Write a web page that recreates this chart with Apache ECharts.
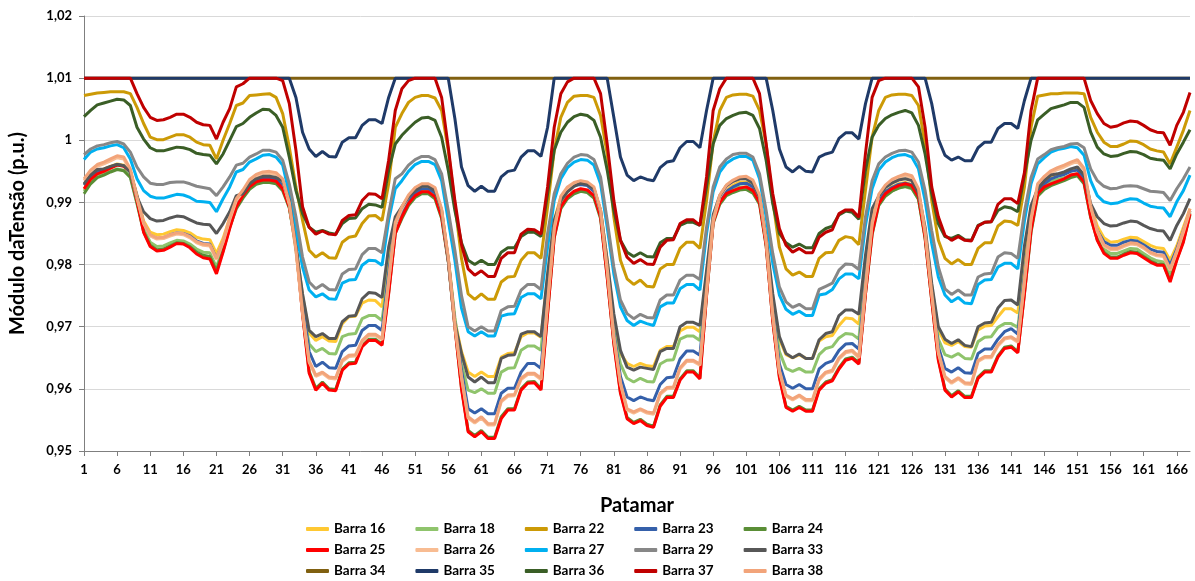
<!DOCTYPE html>
<html>
<head>
<meta charset="utf-8">
<script src="https://cdn.jsdelivr.net/npm/echarts@6/dist/echarts.min.js"></script>
<style>
html,body{margin:0;padding:0;background:#ffffff;}
#chart{width:1195px;height:581px;}
</style>
</head>
<body>
<div id="chart"></div>
<script>
// Hourly load levels (patamares) over one week: 7 days x 24 hours
const hours = Array.from({ length: 168 }, (_, k) => String(k + 1));

// Voltage magnitude per bus (p.u.), one row per day
const barra16 = [
  0.9928,0.9942,0.9951,0.9954,0.9958,0.9962,0.9960,0.9950,0.9912,0.9870,0.9852,0.9848,0.9849,0.9853,0.9856,0.9855,0.9851,0.9844,0.9841,0.9840,0.9818,0.9842,0.9875,0.9903,
  0.9915,0.9929,0.9936,0.9940,0.9940,0.9938,0.9930,0.9900,0.9830,0.9750,0.9690,0.9678,0.9684,0.9677,0.9676,0.9705,0.9716,0.9717,0.9738,0.9743,0.9742,0.9732,0.9815,0.9873,
  0.9890,0.9908,0.9918,0.9924,0.9925,0.9918,0.9885,0.9810,0.9710,0.9660,0.9627,0.9620,0.9627,0.9620,0.9620,0.9651,0.9657,0.9658,0.9684,0.9690,0.9690,0.9683,0.9780,0.9871,
  0.9909,0.9922,0.9929,0.9933,0.9931,0.9922,0.9887,0.9807,0.9710,0.9657,0.9641,0.9636,0.9641,0.9637,0.9636,0.9662,0.9668,0.9668,0.9693,0.9699,0.9699,0.9692,0.9785,0.9875,
  0.9905,0.9920,0.9928,0.9933,0.9933,0.9927,0.9905,0.9840,0.9745,0.9680,0.9655,0.9650,0.9655,0.9649,0.9649,0.9677,0.9684,0.9686,0.9702,0.9714,0.9713,0.9704,0.9800,0.9880,
  0.9905,0.9918,0.9925,0.9930,0.9932,0.9929,0.9910,0.9855,0.9765,0.9695,0.9674,0.9670,0.9676,0.9668,0.9667,0.9695,0.9701,0.9702,0.9716,0.9729,0.9729,0.9722,0.9810,0.9885,
  0.9920,0.9932,0.9940,0.9943,0.9946,0.9951,0.9954,0.9942,0.9895,0.9862,0.9843,0.9836,0.9837,0.9841,0.9844,0.9843,0.9837,0.9831,0.9827,0.9826,0.9807,0.9830,0.9860,0.9890
];
const barra18 = [
  0.9918,0.9933,0.9942,0.9946,0.9950,0.9954,0.9952,0.9943,0.9900,0.9858,0.9836,0.9829,0.9830,0.9835,0.9839,0.9838,0.9833,0.9825,0.9820,0.9819,0.9796,0.9827,0.9864,0.9894,
  0.9909,0.9923,0.9931,0.9934,0.9934,0.9932,0.9922,0.9893,0.9825,0.9730,0.9672,0.9660,0.9665,0.9657,0.9656,0.9684,0.9688,0.9689,0.9713,0.9718,0.9718,0.9710,0.9790,0.9865,
  0.9885,0.9903,0.9913,0.9918,0.9918,0.9911,0.9880,0.9810,0.9715,0.9640,0.9598,0.9594,0.9600,0.9593,0.9593,0.9627,0.9633,0.9634,0.9662,0.9669,0.9669,0.9662,0.9770,0.9862,
  0.9897,0.9910,0.9917,0.9918,0.9917,0.9909,0.9878,0.9790,0.9695,0.9640,0.9617,0.9611,0.9617,0.9612,0.9611,0.9640,0.9646,0.9647,0.9680,0.9685,0.9685,0.9678,0.9775,0.9872,
  0.9902,0.9915,0.9921,0.9925,0.9925,0.9920,0.9903,0.9835,0.9725,0.9660,0.9633,0.9628,0.9633,0.9627,0.9627,0.9655,0.9665,0.9668,0.9682,0.9689,0.9688,0.9680,0.9790,0.9870,
  0.9900,0.9912,0.9919,0.9923,0.9925,0.9922,0.9905,0.9845,0.9755,0.9680,0.9655,0.9651,0.9657,0.9649,0.9648,0.9676,0.9683,0.9684,0.9699,0.9705,0.9705,0.9699,0.9785,0.9870,
  0.9918,0.9928,0.9934,0.9937,0.9940,0.9944,0.9946,0.9935,0.9880,0.9845,0.9825,0.9818,0.9818,0.9822,0.9826,0.9825,0.9818,0.9811,0.9806,0.9804,0.9785,0.9812,0.9843,0.9884
];
const barra22 = [
  1.0072,1.0074,1.0076,1.0077,1.0078,1.0078,1.0078,1.0075,1.0053,1.0027,1.0005,1.0001,1.0001,1.0005,1.0009,1.0009,1.0005,0.9997,0.9993,0.9992,0.9970,1.0000,1.0027,1.0056,
  1.0060,1.0072,1.0073,1.0074,1.0075,1.0069,1.0043,0.9989,0.9925,0.9871,0.9823,0.9812,0.9819,0.9811,0.9810,0.9836,0.9844,0.9846,0.9866,0.9878,0.9879,0.9871,0.9930,1.0021,
  1.0043,1.0061,1.0069,1.0072,1.0072,1.0068,1.0048,0.9984,0.9898,0.9810,0.9753,0.9744,0.9753,0.9744,0.9744,0.9772,0.9780,0.9781,0.9807,0.9819,0.9819,0.9810,0.9893,0.9984,
  1.0037,1.0061,1.0071,1.0072,1.0072,1.0069,1.0040,0.9978,0.9877,0.9807,0.9777,0.9768,0.9775,0.9765,0.9764,0.9793,0.9800,0.9800,0.9826,0.9836,0.9836,0.9826,0.9903,0.9997,
  1.0048,1.0069,1.0073,1.0074,1.0074,1.0071,1.0048,0.9994,0.9903,0.9828,0.9793,0.9783,0.9788,0.9781,0.9781,0.9810,0.9819,0.9820,0.9839,0.9845,0.9843,0.9832,0.9920,1.0005,
  1.0048,1.0069,1.0073,1.0074,1.0074,1.0072,1.0056,0.9994,0.9903,0.9839,0.9810,0.9801,0.9808,0.9800,0.9800,0.9826,0.9835,0.9835,0.9862,0.9870,0.9869,0.9863,0.9925,1.0021,
  1.0071,1.0073,1.0075,1.0075,1.0076,1.0076,1.0076,1.0075,1.0037,1.0013,0.9997,0.9990,0.9990,0.9994,0.9999,0.9998,0.9993,0.9986,0.9983,0.9981,0.9962,0.9989,1.0016,1.0048
];
const barra23 = [
  0.9928,0.9941,0.9950,0.9953,0.9957,0.9961,0.9959,0.9949,0.9910,0.9866,0.9847,0.9842,0.9843,0.9848,0.9851,0.9850,0.9846,0.9838,0.9834,0.9833,0.9810,0.9836,0.9870,0.9900,
  0.9913,0.9928,0.9935,0.9939,0.9939,0.9937,0.9928,0.9898,0.9830,0.9735,0.9660,0.9636,0.9643,0.9634,0.9633,0.9660,0.9669,0.9670,0.9694,0.9702,0.9702,0.9694,0.9785,0.9865,
  0.9886,0.9904,0.9915,0.9922,0.9922,0.9915,0.9882,0.9808,0.9705,0.9630,0.9568,0.9561,0.9568,0.9560,0.9560,0.9593,0.9601,0.9601,0.9627,0.9641,0.9641,0.9633,0.9750,0.9858,
  0.9905,0.9919,0.9927,0.9929,0.9927,0.9918,0.9883,0.9795,0.9690,0.9620,0.9587,0.9581,0.9587,0.9583,0.9581,0.9607,0.9618,0.9619,0.9648,0.9661,0.9661,0.9654,0.9765,0.9870,
  0.9903,0.9918,0.9925,0.9930,0.9931,0.9925,0.9903,0.9835,0.9725,0.9640,0.9607,0.9601,0.9607,0.9600,0.9600,0.9632,0.9641,0.9645,0.9662,0.9672,0.9673,0.9664,0.9770,0.9865,
  0.9903,0.9917,0.9924,0.9929,0.9931,0.9928,0.9909,0.9850,0.9755,0.9668,0.9633,0.9627,0.9634,0.9626,0.9625,0.9657,0.9664,0.9664,0.9680,0.9692,0.9697,0.9688,0.9780,0.9870,
  0.9917,0.9930,0.9938,0.9942,0.9945,0.9950,0.9952,0.9940,0.9890,0.9855,0.9837,0.9831,0.9831,0.9836,0.9839,0.9838,0.9832,0.9825,0.9821,0.9820,0.9799,0.9825,0.9855,0.9887
];
const barra24 = [
  0.9914,0.9930,0.9940,0.9944,0.9949,0.9953,0.9951,0.9940,0.9898,0.9853,0.9831,0.9824,0.9825,0.9830,0.9835,0.9834,0.9829,0.9820,0.9815,0.9813,0.9790,0.9822,0.9860,0.9890,
  0.9907,0.9921,0.9929,0.9932,0.9932,0.9930,0.9919,0.9891,0.9830,0.9722,0.9628,0.9601,0.9611,0.9600,0.9599,0.9632,0.9642,0.9643,0.9670,0.9680,0.9680,0.9672,0.9755,0.9850,
  0.9874,0.9895,0.9908,0.9914,0.9914,0.9906,0.9874,0.9805,0.9700,0.9602,0.9533,0.9525,0.9533,0.9522,0.9522,0.9555,0.9568,0.9568,0.9600,0.9611,0.9612,0.9600,0.9722,0.9843,
  0.9890,0.9906,0.9914,0.9918,0.9916,0.9907,0.9874,0.9780,0.9674,0.9595,0.9554,0.9546,0.9551,0.9543,0.9540,0.9574,0.9588,0.9588,0.9616,0.9629,0.9629,0.9618,0.9750,0.9866,
  0.9897,0.9911,0.9916,0.9920,0.9921,0.9915,0.9897,0.9830,0.9710,0.9620,0.9572,0.9566,0.9572,0.9566,0.9566,0.9600,0.9611,0.9615,0.9634,0.9648,0.9651,0.9642,0.9753,0.9848,
  0.9895,0.9910,0.9918,0.9923,0.9926,0.9923,0.9905,0.9842,0.9743,0.9648,0.9600,0.9589,0.9597,0.9588,0.9588,0.9619,0.9629,0.9629,0.9653,0.9667,0.9669,0.9660,0.9753,0.9852,
  0.9910,0.9921,0.9927,0.9931,0.9935,0.9940,0.9943,0.9930,0.9876,0.9840,0.9820,0.9812,0.9812,0.9817,0.9821,0.9820,0.9813,0.9806,0.9801,0.9800,0.9775,0.9808,0.9838,0.9880
];
const barra25 = [
  0.9922,0.9937,0.9946,0.9950,0.9955,0.9960,0.9958,0.9950,0.9903,0.9852,0.9829,0.9822,0.9823,0.9828,0.9834,0.9833,0.9827,0.9817,0.9811,0.9809,0.9785,0.9820,0.9858,0.9893,
  0.9911,0.9925,0.9933,0.9936,0.9936,0.9934,0.9922,0.9893,0.9830,0.9720,0.9625,0.9598,0.9609,0.9598,0.9597,0.9630,0.9640,0.9641,0.9668,0.9678,0.9678,0.9670,0.9753,0.9850,
  0.9877,0.9898,0.9911,0.9917,0.9917,0.9909,0.9877,0.9807,0.9700,0.9600,0.9531,0.9523,0.9531,0.9520,0.9520,0.9552,0.9566,0.9566,0.9598,0.9609,0.9610,0.9598,0.9721,0.9844,
  0.9893,0.9909,0.9918,0.9922,0.9920,0.9911,0.9877,0.9780,0.9673,0.9593,0.9552,0.9544,0.9549,0.9541,0.9538,0.9572,0.9586,0.9586,0.9614,0.9627,0.9627,0.9616,0.9750,0.9868,
  0.9900,0.9914,0.9919,0.9923,0.9925,0.9919,0.9900,0.9831,0.9709,0.9618,0.9570,0.9564,0.9570,0.9564,0.9564,0.9598,0.9609,0.9613,0.9632,0.9646,0.9649,0.9640,0.9753,0.9850,
  0.9898,0.9914,0.9922,0.9927,0.9930,0.9927,0.9909,0.9844,0.9743,0.9646,0.9598,0.9587,0.9595,0.9586,0.9586,0.9617,0.9627,0.9627,0.9651,0.9665,0.9667,0.9658,0.9753,0.9855,
  0.9914,0.9925,0.9930,0.9934,0.9938,0.9944,0.9946,0.9933,0.9877,0.9839,0.9818,0.9810,0.9810,0.9815,0.9819,0.9818,0.9811,0.9804,0.9799,0.9799,0.9772,0.9807,0.9836,0.9882
];
const barra26 = [
  0.9935,0.9949,0.9958,0.9962,0.9967,0.9972,0.9970,0.9951,0.9907,0.9866,0.9846,0.9841,0.9842,0.9846,0.9849,0.9848,0.9843,0.9835,0.9831,0.9830,0.9808,0.9836,0.9872,0.9903,
  0.9917,0.9934,0.9942,0.9946,0.9947,0.9945,0.9935,0.9897,0.9822,0.9722,0.9643,0.9620,0.9625,0.9617,0.9616,0.9644,0.9652,0.9653,0.9676,0.9686,0.9686,0.9679,0.9772,0.9865,
  0.9890,0.9909,0.9921,0.9927,0.9927,0.9921,0.9887,0.9809,0.9702,0.9618,0.9553,0.9545,0.9553,0.9542,0.9542,0.9579,0.9588,0.9589,0.9615,0.9623,0.9623,0.9615,0.9737,0.9857,
  0.9907,0.9922,0.9929,0.9932,0.9930,0.9922,0.9885,0.9792,0.9683,0.9608,0.9566,0.9561,0.9566,0.9561,0.9559,0.9591,0.9600,0.9601,0.9632,0.9644,0.9644,0.9638,0.9757,0.9870,
  0.9909,0.9925,0.9933,0.9938,0.9939,0.9933,0.9909,0.9837,0.9718,0.9628,0.9588,0.9582,0.9588,0.9581,0.9581,0.9614,0.9625,0.9628,0.9648,0.9658,0.9660,0.9650,0.9762,0.9865,
  0.9910,0.9925,0.9934,0.9939,0.9943,0.9940,0.9919,0.9852,0.9753,0.9658,0.9618,0.9609,0.9616,0.9608,0.9607,0.9644,0.9650,0.9650,0.9669,0.9680,0.9682,0.9675,0.9772,0.9872,
  0.9927,0.9939,0.9948,0.9953,0.9957,0.9962,0.9966,0.9952,0.9893,0.9853,0.9830,0.9824,0.9824,0.9829,0.9833,0.9832,0.9826,0.9818,0.9814,0.9813,0.9791,0.9820,0.9852,0.9887
];
const barra27 = [
  0.9969,0.9981,0.9986,0.9988,0.9991,0.9993,0.9988,0.9970,0.9938,0.9919,0.9910,0.9907,0.9907,0.9910,0.9913,0.9912,0.9908,0.9902,0.9901,0.9900,0.9885,0.9906,0.9925,0.9949,
  0.9953,0.9965,0.9970,0.9976,0.9977,0.9973,0.9960,0.9914,0.9855,0.9796,0.9759,0.9748,0.9753,0.9745,0.9744,0.9770,0.9775,0.9776,0.9799,0.9807,0.9806,0.9799,0.9871,0.9922,
  0.9935,0.9950,0.9961,0.9966,0.9966,0.9961,0.9935,0.9871,0.9807,0.9730,0.9692,0.9685,0.9692,0.9685,0.9685,0.9717,0.9720,0.9721,0.9747,0.9753,0.9753,0.9745,0.9828,0.9903,
  0.9938,0.9956,0.9965,0.9969,0.9968,0.9960,0.9930,0.9860,0.9785,0.9732,0.9710,0.9702,0.9709,0.9705,0.9702,0.9732,0.9738,0.9738,0.9761,0.9768,0.9768,0.9759,0.9850,0.9917,
  0.9949,0.9963,0.9970,0.9974,0.9974,0.9968,0.9938,0.9877,0.9802,0.9751,0.9728,0.9720,0.9725,0.9718,0.9718,0.9751,0.9753,0.9760,0.9777,0.9785,0.9785,0.9777,0.9863,0.9922,
  0.9952,0.9965,0.9972,0.9976,0.9977,0.9973,0.9954,0.9903,0.9834,0.9780,0.9751,0.9740,0.9747,0.9738,0.9737,0.9768,0.9775,0.9776,0.9796,0.9802,0.9802,0.9793,0.9870,0.9930,
  0.9962,0.9972,0.9981,0.9985,0.9987,0.9990,0.9988,0.9976,0.9935,0.9911,0.9901,0.9898,0.9899,0.9903,0.9906,0.9905,0.9899,0.9894,0.9892,0.9891,0.9877,0.9901,0.9919,0.9944
];
const barra29 = [
  0.9977,0.9986,0.9991,0.9993,0.9996,0.9998,0.9994,0.9981,0.9957,0.9941,0.9931,0.9929,0.9929,0.9932,0.9933,0.9933,0.9930,0.9926,0.9924,0.9922,0.9911,0.9925,0.9941,0.9960,
  0.9963,0.9973,0.9978,0.9984,0.9984,0.9981,0.9968,0.9930,0.9877,0.9812,0.9772,0.9761,0.9768,0.9760,0.9759,0.9785,0.9792,0.9793,0.9816,0.9826,0.9826,0.9819,0.9882,0.9938,
  0.9946,0.9960,0.9969,0.9974,0.9974,0.9969,0.9946,0.9887,0.9823,0.9750,0.9700,0.9693,0.9700,0.9693,0.9693,0.9726,0.9732,0.9733,0.9759,0.9768,0.9768,0.9760,0.9850,0.9914,
  0.9946,0.9963,0.9973,0.9977,0.9976,0.9969,0.9941,0.9871,0.9796,0.9743,0.9721,0.9713,0.9720,0.9715,0.9714,0.9743,0.9751,0.9751,0.9775,0.9783,0.9783,0.9776,0.9860,0.9925,
  0.9957,0.9970,0.9977,0.9979,0.9979,0.9973,0.9946,0.9887,0.9818,0.9764,0.9740,0.9731,0.9736,0.9729,0.9729,0.9760,0.9765,0.9770,0.9791,0.9801,0.9800,0.9792,0.9877,0.9935,
  0.9962,0.9973,0.9979,0.9983,0.9984,0.9981,0.9965,0.9919,0.9855,0.9796,0.9761,0.9752,0.9759,0.9751,0.9751,0.9780,0.9785,0.9786,0.9812,0.9819,0.9818,0.9810,0.9885,0.9940,
  0.9970,0.9977,0.9985,0.9988,0.9990,0.9994,0.9995,0.9988,0.9954,0.9935,0.9926,0.9922,0.9923,0.9926,0.9927,0.9926,0.9922,0.9918,0.9917,0.9916,0.9903,0.9922,0.9938,0.9957
];
const barra33 = [
  0.9930,0.9944,0.9953,0.9954,0.9958,0.9961,0.9959,0.9949,0.9909,0.9885,0.9874,0.9870,0.9871,0.9875,0.9878,0.9877,0.9872,0.9867,0.9865,0.9864,0.9850,0.9866,0.9885,0.9911,
  0.9914,0.9930,0.9938,0.9942,0.9942,0.9940,0.9935,0.9903,0.9828,0.9753,0.9694,0.9684,0.9689,0.9681,0.9681,0.9708,0.9717,0.9718,0.9745,0.9755,0.9754,0.9747,0.9828,0.9877,
  0.9893,0.9909,0.9919,0.9926,0.9926,0.9919,0.9887,0.9807,0.9705,0.9657,0.9619,0.9611,0.9619,0.9610,0.9610,0.9649,0.9654,0.9655,0.9688,0.9692,0.9692,0.9684,0.9785,0.9871,
  0.9903,0.9917,0.9926,0.9931,0.9929,0.9922,0.9887,0.9807,0.9721,0.9662,0.9635,0.9630,0.9635,0.9633,0.9631,0.9660,0.9665,0.9665,0.9700,0.9707,0.9707,0.9702,0.9790,0.9880,
  0.9911,0.9927,0.9934,0.9938,0.9938,0.9931,0.9909,0.9844,0.9753,0.9684,0.9657,0.9650,0.9656,0.9649,0.9649,0.9679,0.9689,0.9692,0.9718,0.9727,0.9727,0.9720,0.9815,0.9890,
  0.9910,0.9924,0.9931,0.9936,0.9938,0.9935,0.9915,0.9860,0.9770,0.9700,0.9680,0.9673,0.9679,0.9670,0.9668,0.9700,0.9706,0.9707,0.9730,0.9742,0.9743,0.9735,0.9830,0.9895,
  0.9922,0.9935,0.9944,0.9946,0.9949,0.9954,0.9957,0.9944,0.9898,0.9877,0.9866,0.9862,0.9863,0.9867,0.9870,0.9869,0.9863,0.9858,0.9855,0.9854,0.9839,0.9863,0.9882,0.9906
];
const barra34 = [
  1.01,1.01,1.01,1.01,1.01,1.01,1.01,1.01,1.01,1.01,1.01,1.01,1.01,1.01,1.01,1.01,1.01,1.01,1.01,1.01,1.01,1.01,1.01,1.01,
  1.01,1.01,1.01,1.01,1.01,1.01,1.01,1.01,1.01,1.01,1.01,1.01,1.01,1.01,1.01,1.01,1.01,1.01,1.01,1.01,1.01,1.01,1.01,1.01,
  1.01,1.01,1.01,1.01,1.01,1.01,1.01,1.01,1.01,1.01,1.01,1.01,1.01,1.01,1.01,1.01,1.01,1.01,1.01,1.01,1.01,1.01,1.01,1.01,
  1.01,1.01,1.01,1.01,1.01,1.01,1.01,1.01,1.01,1.01,1.01,1.01,1.01,1.01,1.01,1.01,1.01,1.01,1.01,1.01,1.01,1.01,1.01,1.01,
  1.01,1.01,1.01,1.01,1.01,1.01,1.01,1.01,1.01,1.01,1.01,1.01,1.01,1.01,1.01,1.01,1.01,1.01,1.01,1.01,1.01,1.01,1.01,1.01,
  1.01,1.01,1.01,1.01,1.01,1.01,1.01,1.01,1.01,1.01,1.01,1.01,1.01,1.01,1.01,1.01,1.01,1.01,1.01,1.01,1.01,1.01,1.01,1.01,
  1.01,1.01,1.01,1.01,1.01,1.01,1.01,1.01,1.01,1.01,1.01,1.01,1.01,1.01,1.01,1.01,1.01,1.01,1.01,1.01,1.01,1.01,1.01,1.01
];
const barra35 = [
  1.0100,1.0100,1.0100,1.0100,1.0100,1.0100,1.0100,1.0100,1.0100,1.0100,1.0100,1.0100,1.0100,1.0100,1.0100,1.0100,1.0100,1.0100,1.0100,1.0100,1.0100,1.0100,1.0100,1.0100,
  1.0100,1.0100,1.0100,1.0100,1.0100,1.0100,1.0100,1.0100,1.0069,1.0013,0.9986,0.9974,0.9982,0.9974,0.9973,0.9997,1.0004,1.0004,1.0024,1.0033,1.0033,1.0027,1.0069,1.0100,
  1.0100,1.0100,1.0100,1.0100,1.0100,1.0100,1.0100,1.0100,1.0035,0.9957,0.9927,0.9918,0.9926,0.9918,0.9918,0.9941,0.9950,0.9952,0.9973,0.9983,0.9983,0.9974,1.0021,1.0100,
  1.0100,1.0100,1.0100,1.0100,1.0100,1.0100,1.0100,1.0100,1.0037,0.9973,0.9944,0.9935,0.9941,0.9937,0.9935,0.9956,0.9965,0.9967,0.9988,0.9998,0.9998,0.9988,1.0048,1.0100,
  1.0100,1.0100,1.0100,1.0100,1.0100,1.0100,1.0100,1.0100,1.0048,0.9986,0.9957,0.9949,0.9958,0.9950,0.9949,0.9973,0.9978,0.9981,1.0003,1.0012,1.0012,1.0002,1.0059,1.0100,
  1.0100,1.0100,1.0100,1.0100,1.0100,1.0100,1.0100,1.0100,1.0059,1.0002,0.9976,0.9968,0.9973,0.9967,0.9967,0.9988,0.9997,0.9997,1.0019,1.0027,1.0027,1.0019,1.0064,1.0100,
  1.0100,1.0100,1.0100,1.0100,1.0100,1.0100,1.0100,1.0100,1.0100,1.0100,1.0100,1.0100,1.0100,1.0100,1.0100,1.0100,1.0100,1.0100,1.0100,1.0100,1.0100,1.0100,1.0100,1.0100
];
const barra36 = [
  1.0038,1.0048,1.0057,1.0060,1.0063,1.0066,1.0065,1.0056,1.0021,1.0002,0.9988,0.9983,0.9983,0.9986,0.9989,0.9988,0.9985,0.9979,0.9977,0.9976,0.9962,0.9978,1.0000,1.0022,
  1.0027,1.0037,1.0044,1.0050,1.0049,1.0040,1.0021,0.9973,0.9919,0.9882,0.9860,0.9852,0.9855,0.9851,0.9849,0.9866,0.9874,0.9875,0.9890,0.9897,0.9896,0.9892,0.9952,0.9994,
  1.0008,1.0019,1.0029,1.0036,1.0037,1.0032,1.0005,0.9952,0.9887,0.9835,0.9807,0.9800,0.9807,0.9800,0.9800,0.9820,0.9827,0.9827,0.9845,0.9852,0.9852,0.9845,0.9914,0.9984,
  1.0013,1.0029,1.0038,1.0042,1.0040,1.0032,1.0005,0.9952,0.9887,0.9839,0.9820,0.9813,0.9819,0.9813,0.9812,0.9835,0.9842,0.9842,0.9863,0.9868,0.9868,0.9863,0.9925,0.9994,
  1.0024,1.0035,1.0040,1.0044,1.0045,1.0040,1.0019,0.9968,0.9898,0.9850,0.9835,0.9828,0.9833,0.9827,0.9827,0.9850,0.9858,0.9862,0.9880,0.9886,0.9884,0.9873,0.9952,1.0005,
  1.0024,1.0035,1.0041,1.0045,1.0048,1.0044,1.0024,0.9978,0.9914,0.9866,0.9845,0.9842,0.9847,0.9840,0.9839,0.9863,0.9868,0.9869,0.9887,0.9893,0.9891,0.9885,0.9944,1.0000,
  1.0033,1.0042,1.0051,1.0054,1.0057,1.0061,1.0061,1.0053,1.0013,0.9989,0.9978,0.9974,0.9975,0.9979,0.9982,0.9981,0.9977,0.9971,0.9969,0.9968,0.9954,0.9978,0.9997,1.0017
];
const barra37 = [
  1.0100,1.0100,1.0100,1.0100,1.0100,1.0100,1.0100,1.0100,1.0075,1.0053,1.0037,1.0032,1.0033,1.0037,1.0042,1.0042,1.0037,1.0029,1.0025,1.0024,1.0002,1.0029,1.0051,1.0086,
  1.0091,1.0100,1.0100,1.0100,1.0100,1.0100,1.0096,1.0059,0.9984,0.9893,0.9860,0.9849,0.9854,0.9849,0.9848,0.9871,0.9879,0.9880,0.9903,0.9914,0.9913,0.9906,0.9968,1.0048,
  1.0083,1.0096,1.0100,1.0100,1.0100,1.0100,1.0069,0.9989,0.9903,0.9832,0.9793,0.9783,0.9790,0.9781,0.9781,0.9810,0.9819,0.9819,0.9849,0.9857,0.9856,0.9849,0.9925,1.0021,
  1.0075,1.0094,1.0100,1.0100,1.0100,1.0100,1.0075,0.9994,0.9903,0.9839,0.9812,0.9802,0.9808,0.9801,0.9800,0.9828,0.9839,0.9840,0.9866,0.9872,0.9872,0.9863,0.9941,1.0048,
  1.0083,1.0100,1.0100,1.0100,1.0100,1.0100,1.0075,0.9994,0.9914,0.9858,0.9831,0.9820,0.9826,0.9819,0.9819,0.9844,0.9852,0.9856,0.9882,0.9888,0.9888,0.9876,0.9979,1.0069,
  1.0096,1.0100,1.0100,1.0100,1.0100,1.0100,1.0086,1.0021,0.9925,0.9877,0.9847,0.9839,0.9845,0.9839,0.9838,0.9862,0.9868,0.9869,0.9897,0.9906,0.9906,0.9898,0.9948,1.0048,
  1.0100,1.0100,1.0100,1.0100,1.0100,1.0100,1.0100,1.0100,1.0064,1.0043,1.0027,1.0021,1.0023,1.0028,1.0031,1.0030,1.0024,1.0017,1.0013,1.0012,0.9992,1.0024,1.0045,1.0077
];
const barra38 = [
  0.9938,0.9952,0.9961,0.9965,0.9970,0.9975,0.9973,0.9954,0.9909,0.9868,0.9848,0.9843,0.9844,0.9848,0.9851,0.9850,0.9845,0.9837,0.9833,0.9832,0.9810,0.9838,0.9875,0.9906,
  0.9920,0.9937,0.9945,0.9949,0.9950,0.9948,0.9938,0.9900,0.9825,0.9725,0.9645,0.9622,0.9627,0.9619,0.9618,0.9646,0.9654,0.9655,0.9678,0.9688,0.9688,0.9681,0.9775,0.9868,
  0.9893,0.9912,0.9924,0.9930,0.9930,0.9924,0.9890,0.9812,0.9705,0.9620,0.9555,0.9547,0.9555,0.9544,0.9544,0.9581,0.9590,0.9591,0.9617,0.9625,0.9625,0.9617,0.9740,0.9860,
  0.9910,0.9925,0.9932,0.9935,0.9933,0.9925,0.9888,0.9795,0.9685,0.9610,0.9568,0.9563,0.9568,0.9563,0.9561,0.9593,0.9602,0.9603,0.9634,0.9646,0.9646,0.9640,0.9760,0.9873,
  0.9912,0.9928,0.9936,0.9941,0.9942,0.9936,0.9912,0.9840,0.9720,0.9630,0.9590,0.9584,0.9590,0.9583,0.9583,0.9616,0.9627,0.9630,0.9650,0.9660,0.9662,0.9652,0.9765,0.9868,
  0.9913,0.9928,0.9937,0.9942,0.9946,0.9943,0.9922,0.9855,0.9755,0.9660,0.9620,0.9611,0.9618,0.9610,0.9609,0.9646,0.9652,0.9652,0.9671,0.9682,0.9684,0.9677,0.9775,0.9875,
  0.9930,0.9942,0.9951,0.9956,0.9960,0.9965,0.9969,0.9955,0.9895,0.9855,0.9832,0.9826,0.9826,0.9831,0.9835,0.9834,0.9828,0.9820,0.9816,0.9815,0.9793,0.9822,0.9855,0.9890
];

const seriesNames = ['Barra 16','Barra 18','Barra 22','Barra 23','Barra 24','Barra 25','Barra 26','Barra 27',
                     'Barra 29','Barra 33','Barra 34','Barra 35','Barra 36','Barra 37','Barra 38'];
const seriesValues = [barra16, barra18, barra22, barra23, barra24, barra25, barra26, barra27,
                      barra29, barra33, barra34, barra35, barra36, barra37, barra38];
const seriesColors = ['#FFC832','#8FC46C','#CC9A06','#3560AA','#5A8E36','#FF0000','#F8BC92','#00B0F0',
                      '#878787','#575757','#806010','#1F3A68','#3A5E26','#C00000','#F2A47A'];

// legend laid out as three rows of five entries
const legendRows = [
  ['Barra 16','Barra 18','Barra 22','Barra 23','Barra 24'],
  ['Barra 25','Barra 26','Barra 27','Barra 29','Barra 33'],
  ['Barra 34','Barra 35','Barra 36','Barra 37','Barra 38']
];

const FONT = 'Lato, "Liberation Sans", sans-serif';
const chart = echarts.init(document.getElementById('chart'), null, { renderer: 'canvas' });

const fmtY = v => (Math.abs(v - 1) < 1e-9 ? '1' : v.toFixed(2).replace('.', ','));

chart.setOption({
  animation: false,
  backgroundColor: '#ffffff',
  color: seriesColors,
  grid: { left: 78, right: 5, top: 16, bottom: 130, containLabel: false },
  legend: legendRows.map((row, r) => ({
    data: row,
    orient: 'horizontal',
    left: 306,
    top: 522 + r * 21,
    padding: 0,
    itemWidth: 23,
    itemHeight: 4,
    itemGap: 30,
    icon: 'roundRect',
    selectedMode: false,
    textStyle: { fontFamily: FONT, fontWeight: 'bold', fontSize: 13.5, color: '#000' }
  })),
  xAxis: {
    type: 'category',
    data: hours,
    boundaryGap: false,
    name: 'Patamar',
    nameLocation: 'middle',
    nameGap: 45,
    nameTextStyle: { fontFamily: FONT, fontWeight: 'bold', fontSize: 20, color: '#000' },
    axisLine: { lineStyle: { color: '#7f7f7f', width: 1 } },
    axisTick: { show: true, interval: 4, length: 5, lineStyle: { color: '#7f7f7f' } },
    axisLabel: { interval: 4, margin: 12, fontFamily: FONT, fontWeight: 'bold', fontSize: 13, color: '#000' },
    splitLine: { show: false }
  },
  yAxis: {
    type: 'value',
    min: 0.95,
    max: 1.02,
    interval: 0.01,
    name: 'Módulo daTensão (p.u.)',
    nameLocation: 'middle',
    nameGap: 56,
    nameTextStyle: { fontFamily: FONT, fontWeight: 'bold', fontSize: 20, color: '#000' },
    axisLine: { show: true, lineStyle: { color: '#7f7f7f', width: 1 } },
    axisTick: { show: true, length: 5, lineStyle: { color: '#7f7f7f' } },
    axisLabel: { margin: 12, formatter: fmtY, fontFamily: FONT, fontWeight: 'bold', fontSize: 13, color: '#000' },
    splitLine: { show: true, lineStyle: { color: '#d9d9d9', width: 1 } }
  },
  series: seriesNames.map((name, k) => ({
    name: name,
    type: 'line',
    data: seriesValues[k],
    symbol: 'none',
    smooth: false,
    lineStyle: { width: 3, color: seriesColors[k] },
    itemStyle: { color: seriesColors[k] },
    emphasis: { disabled: true }
  }))
});
</script>
</body>
</html>
